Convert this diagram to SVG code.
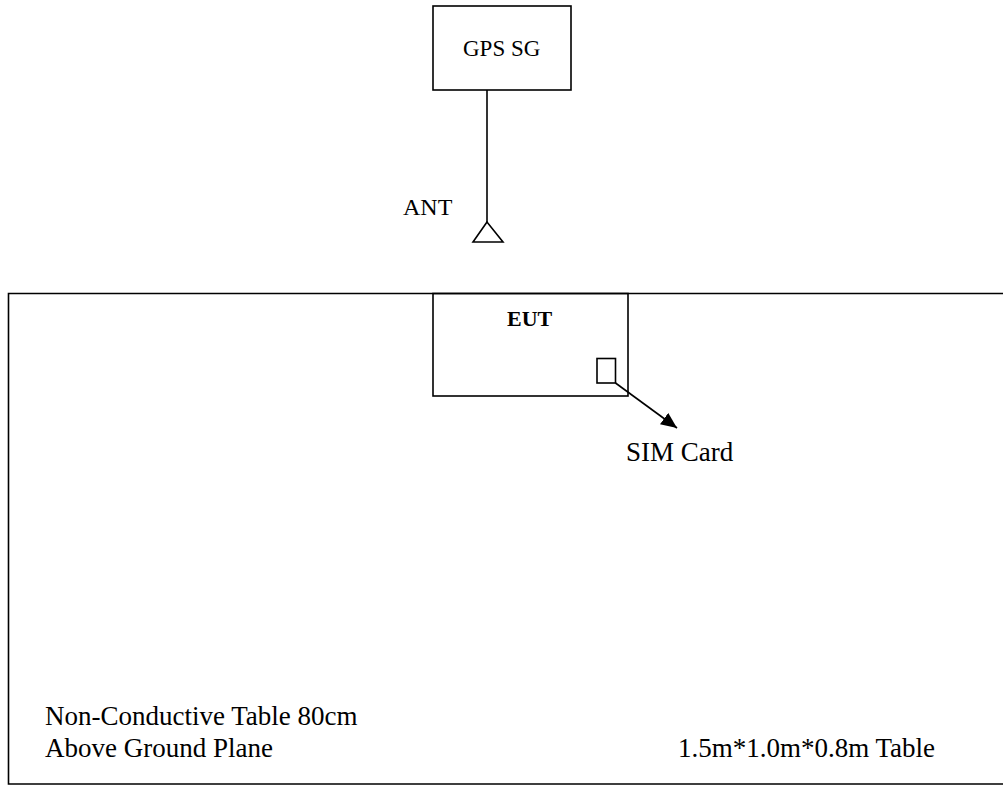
<svg xmlns="http://www.w3.org/2000/svg" width="1003" height="786" viewBox="0 0 1003 786">
<style>
.box{fill:none;stroke:#000;stroke-width:1.6}
.ln{stroke:#000;stroke-width:1.6;fill:none}
.t{font-family:"Liberation Serif","Times New Roman",serif;fill:#000}
.big{font-size:27px}
</style>
<defs>
<marker id="ah" markerWidth="16" markerHeight="14" refX="16" refY="7" orient="auto" markerUnits="userSpaceOnUse" viewBox="0 0 16 14">
<path d="M0,0 L16,7 L0,14 Z" fill="#000"/>
</marker>
</defs>
<rect width="1003" height="786" fill="#fff"/>
<g id="table">
<path class="ln" d="M1005,293.5 H8.5 V784 H1005"/>
<text class="t big" x="45" y="725">Non-Conductive Table 80cm</text>
<text class="t big" x="45" y="757">Above Ground Plane</text>
<text class="t big" x="678" y="757">1.5m*1.0m*0.8m Table</text>
</g>
<g id="gps">
<rect class="box" x="433" y="6" width="138" height="84"/>
<text class="t" x="463" y="56" font-size="23">GPS SG</text>
</g>
<g id="ant">
<path class="ln" d="M487,222 L473,242 H503 Z"/>
<text class="t" x="403" y="215" font-size="24">ANT</text>
</g>
<g id="eut">
<rect class="box" x="433" y="293.5" width="195" height="102.5"/>
<text class="t" x="507" y="326" font-size="22" font-weight="bold">EUT</text>
</g>
<g id="sim">
<rect class="box" x="597" y="358.5" width="18.5" height="24.5"/>
<text class="t big" x="626" y="461">SIM Card</text>
</g>
<g id="connectors">
<line class="ln" x1="487" y1="90" x2="487" y2="222"/>
<line class="ln" x1="615.5" y1="383" x2="677" y2="428" marker-end="url(#ah)"/>
</g>
</svg>
